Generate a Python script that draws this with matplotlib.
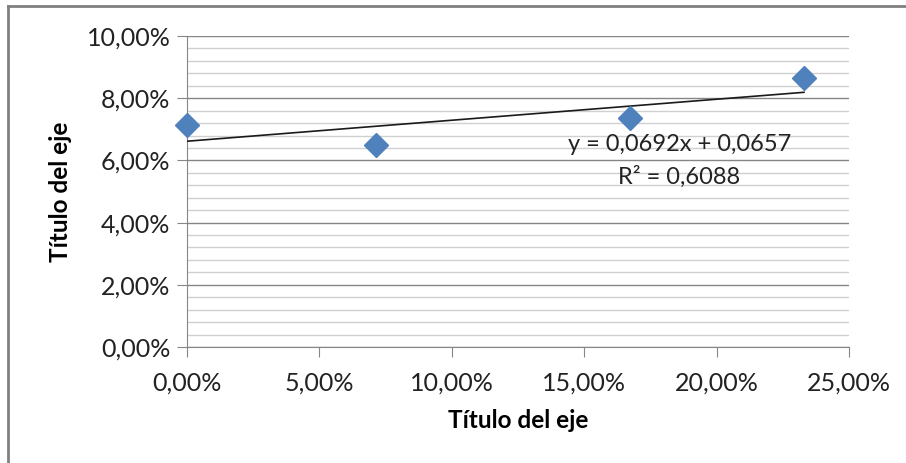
import numpy as np
import matplotlib.pyplot as plt
from matplotlib.ticker import FuncFormatter, MultipleLocator
from matplotlib.lines import Line2D

x_vals = [0.0, 7.14, 16.73, 23.30]
y_vals = [7.14, 6.50, 7.36, 8.65]
eq_text = "y = 0,0692x + 0,0657"
r2_text = "R² = 0,6088"
axis_title = "Título del eje"

plt.rcParams['font.family'] = ['Lato', 'DejaVu Sans']

fig = plt.figure(figsize=(9.06, 4.63), dpi=100)
ax = fig.add_axes([187/906, 1-347/463, (849-187)/906, (347-36)/463])

# outer chart border (left + top)
fig.add_artist(Line2D([8/906, 8/906], [0, 1-6/463], color='#808080', lw=2))
fig.add_artist(Line2D([8/906, 1], [1-6/463, 1-6/463], color='#808080', lw=2))

ax.set_xlim(0, 25)
ax.set_ylim(0, 10)
ax.yaxis.set_major_locator(MultipleLocator(2))
ax.yaxis.set_minor_locator(MultipleLocator(0.4))
ax.xaxis.set_major_locator(MultipleLocator(5))
pct = FuncFormatter(lambda v, p: f"{v:.2f}%".replace('.', ','))
ax.xaxis.set_major_formatter(pct)
ax.yaxis.set_major_formatter(pct)

ax.grid(axis='y', which='major', color='#868686', lw=1)
ax.grid(axis='y', which='minor', color='#d0d0d0', lw=1)
ax.set_axisbelow(True)
for s in ['top', 'right']:
    ax.spines[s].set_visible(False)
for s in ['left', 'bottom']:
    ax.spines[s].set_color('#868686')
ax.tick_params(which='major', direction='out', length=7, color='#868686',
               labelsize=18, labelcolor='#222222')
ax.tick_params(which='minor', length=0)
ax.tick_params(axis='x', pad=11)
ax.tick_params(axis='y', pad=5)

# trend line
coef = np.polyfit(x_vals, y_vals, 1)
tx = np.array([0, max(x_vals)])
ax.plot(tx, np.polyval(coef, tx), color='#1a1a1a', lw=1.2, zorder=3)

ax.plot(x_vals, y_vals, linestyle='none', marker='D', ms=12,
        color='#4f81bd', clip_on=False, zorder=4)

ax.text(18.6, 6.5, eq_text, fontsize=17, ha='center', va='center', color='#222222')
ax.text(18.6, 5.48, r2_text, fontsize=17, ha='center', va='center', color='#222222')

fig.text(518/906, 1-420/463, axis_title, fontsize=17.5, fontweight='bold',
         ha='center', va='center')
fig.text(60/906, 1-192/463, axis_title, fontsize=17.5, fontweight='bold',
         ha='center', va='center', rotation=90)

fig.savefig('out.png', dpi=100)
